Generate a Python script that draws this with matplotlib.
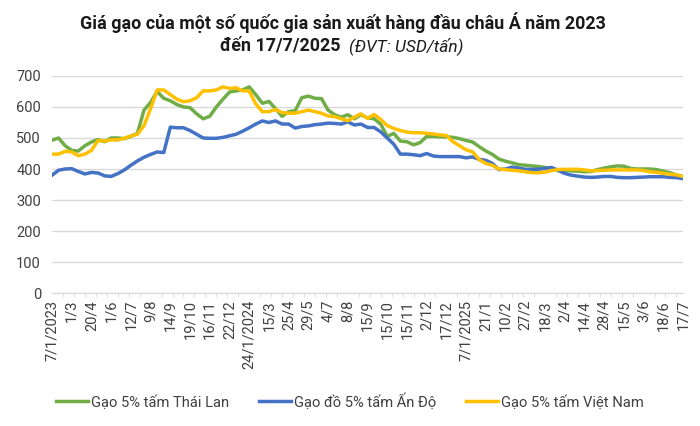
import numpy as np
import matplotlib
matplotlib.use('Agg')
import matplotlib.pyplot as plt

plt.rcParams['font.family'] = ['Roboto', 'DejaVu Sans']

# every 3rd trading day (category index step 3), labels every 9 categories
step = 3
labels = ['7/1/2023', '1/3', '20/4', '1/6', '12/7', '9/8', '14/9', '19/10', '16/11', '22/12',
          '24/1/2024', '15/3', '25/4', '29/5', '4/7', '8/8', '15/9', '15/10', '15/11', '2/12',
          '17/12', '7/1/2025', '21/1', '10/2', '27/2', '18/3', '2/4', '14/4', '28/4', '15/5',
          '3/6', '18/6', '17/7']

thai = [493, 500, 475, 460, 458, 475, 487, 495, 488, 500, 500, 498, 505, 515, 590, 615,
        650, 628, 620, 608, 600, 598, 578, 562, 570, 600, 625, 648, 652, 655, 665, 640,
        612, 618, 595, 570, 585, 588, 630, 635, 628, 627, 590, 575, 567, 575, 562, 575,
        565, 562, 545, 505, 515, 490, 488, 478, 485, 505, 505, 504, 504, 502, 498, 492,
        487, 472, 458, 447, 432, 425, 420, 414, 412, 410, 408, 405, 400, 398, 396, 394,
        393, 391, 392, 398, 403, 407, 410, 409, 402, 400, 400, 400, 398, 393, 388, 381, 375]

india = [380, 396, 400, 401, 392, 384, 389, 387, 378, 376, 385, 397, 412, 426, 438, 447,
         455, 453, 535, 533, 533, 524, 512, 500, 499, 499, 502, 507, 512, 522, 533, 545,
         555, 550, 555, 545, 545, 532, 537, 539, 543, 545, 548, 547, 545, 552, 542, 545,
         534, 534, 520, 500, 480, 448, 448, 446, 443, 450, 442, 440, 440, 440, 440, 436,
         439, 431, 428, 418, 398, 400, 406, 403, 399, 399, 399, 402, 405, 395, 386, 380,
         377, 374, 373, 374, 376, 376, 373, 372, 372, 373, 374, 375, 375, 375, 373, 372, 369]

vietnam = [448, 448, 457, 455, 443, 448, 460, 492, 490, 494, 494, 499, 507, 512, 540, 595,
           655, 655, 640, 625, 617, 620, 630, 652, 652, 655, 665, 660, 662, 652, 652, 610,
           585, 585, 592, 582, 580, 580, 585, 590, 585, 580, 571, 569, 562, 556, 567, 578,
           563, 576, 560, 540, 531, 524, 519, 517, 517, 515, 513, 510, 508, 488, 475, 462,
           455, 430, 418, 412, 400, 398, 396, 394, 391, 388, 388, 390, 395, 398, 399, 399,
           399, 397, 394, 395, 396, 397, 397, 397, 397, 397, 395, 391, 389, 386, 383, 381, 376]

x = np.arange(len(thai)) * step
n_cat = x[-1]

fig = plt.figure(figsize=(7, 4.26), dpi=100)
ax = fig.add_axes([0.0743, 0.3122, 0.9014, 0.5094])

ax.plot(x, thai, color='#70AD47', lw=2.5, label='Gạo 5% tấm Thái Lan', solid_joinstyle='round')
ax.plot(x, india, color='#4472C4', lw=2.5, label='Gạo đồ 5% tấm Ấn Độ', solid_joinstyle='round')
ax.plot(x, vietnam, color='#FFC000', lw=2.5, label='Gạo 5% tấm Việt Nam', solid_joinstyle='round')

ax.set_xlim(0, n_cat)
ax.set_ylim(0, 700)
ax.set_yticks(range(0, 701, 100))
ax.grid(axis='y', color='#d9d9d9', lw=1)
ax.set_axisbelow(True)
for s in ['top', 'right', 'left']:
    ax.spines[s].set_visible(False)
ax.spines['bottom'].set_color('#d9d9d9')

ax.set_xticks(np.arange(len(labels)) * 9)
ax.set_xticklabels(labels, rotation=90)
ax.set_xticks(np.arange(0, n_cat + 1, 5), minor=True)
ax.tick_params(axis='x', which='major', length=0, pad=5, labelsize=10.5, labelcolor='#404040')
ax.tick_params(axis='x', which='minor', length=3, color='#d9d9d9', direction='out')
ax.tick_params(axis='y', length=0, pad=8, labelsize=10.5, labelcolor='#404040')

fig.text(0.49, 0.947, 'Giá gạo của một số quốc gia sản xuất hàng đầu châu Á năm 2023',
         ha='center', va='center', fontsize=12.9, fontweight='bold', color='#1a1a1a')
fig.text(0.486, 0.893, 'đến 17/7/2025', ha='right', va='center', fontsize=12.9,
         fontweight='bold', color='#1a1a1a')
fig.text(0.498, 0.893, '(ĐVT: USD/tấn)', ha='left', va='center', fontsize=12.4,
         style='italic', color='#1a1a1a')

fig.legend(loc='center', bbox_to_anchor=(0.5, 0.058), ncol=3, frameon=False,
           fontsize=10.6, handlelength=2.2, handletextpad=0.2, columnspacing=2.0,
           labelcolor='#404040')

fig.savefig('out.png', dpi=100)
